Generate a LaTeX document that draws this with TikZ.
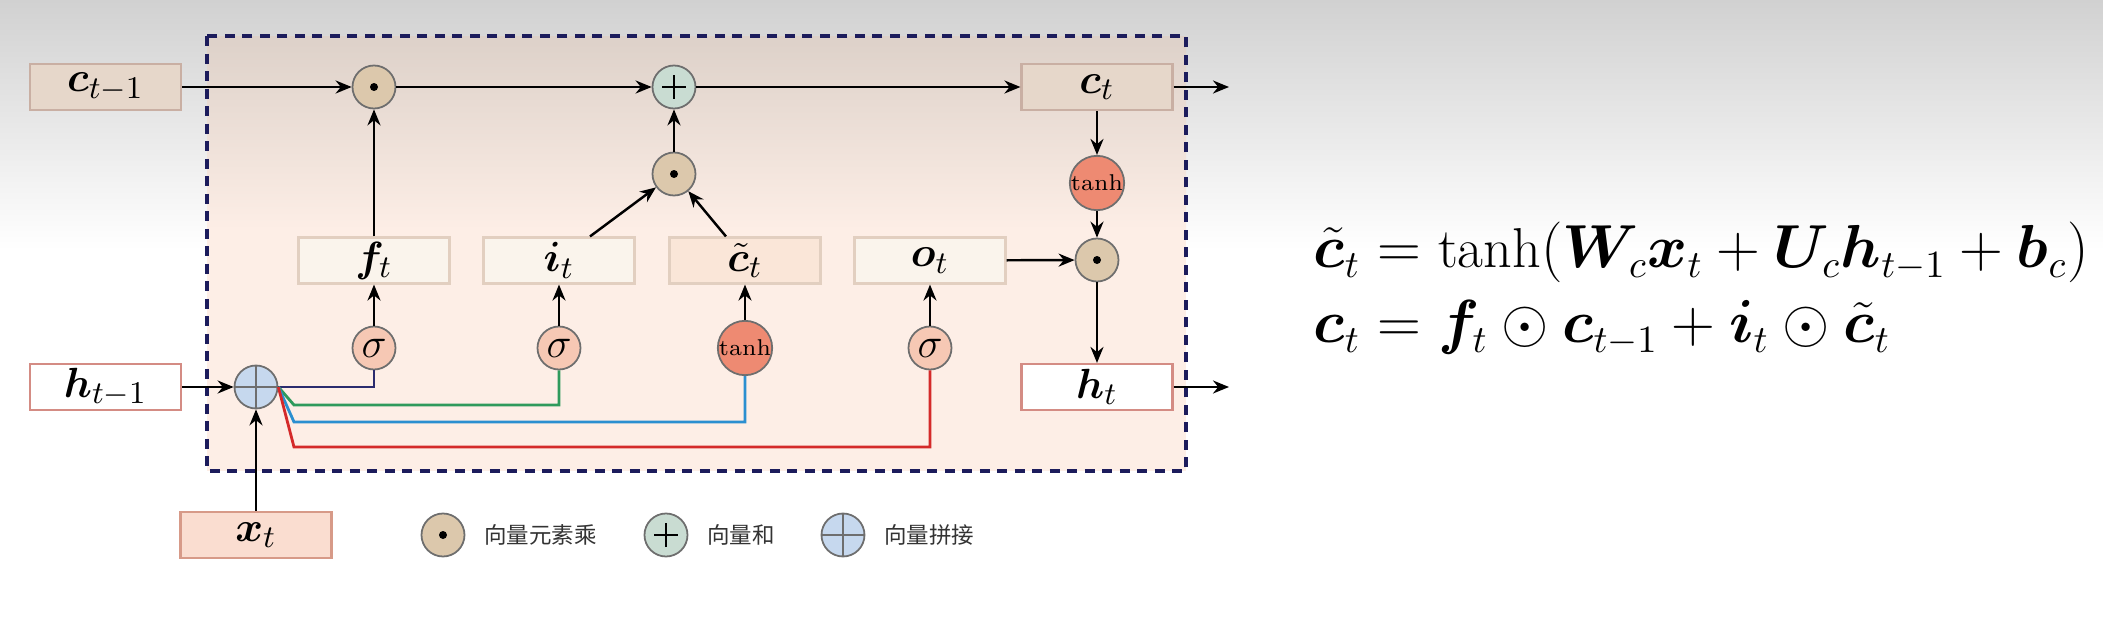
\documentclass[tikz,border=0pt]{standalone}
\usepackage{amsmath}
\usepackage{bm}
\usepackage{fontspec}
\usetikzlibrary{arrows.meta,calc}
\newfontfamily\cjk{Noto Sans CJK SC}

\definecolor{ctop}{HTML}{DDD1C9}
\definecolor{cbot}{HTML}{FDEEE6}
\definecolor{framec}{HTML}{1C1C5C}
\definecolor{cellfill}{HTML}{E6D7CA}
\definecolor{celldraw}{HTML}{C9AFA3}
\definecolor{gatefill}{HTML}{FAF4EC}
\definecolor{gatedraw}{HTML}{E2CFC0}
\definecolor{candfill}{HTML}{FAE6D8}
\definecolor{hiddraw}{HTML}{D48C84}
\definecolor{inpfill}{HTML}{FADDD0}
\definecolor{inpdraw}{HTML}{D79A88}
\definecolor{mulfill}{HTML}{DCC8AC}
\definecolor{addfill}{HTML}{C9DCD2}
\definecolor{catfill}{HTML}{C6D8EE}
\definecolor{sigfill}{HTML}{F6C8B4}
\definecolor{tanhfill}{HTML}{EE8A72}
\definecolor{ring}{HTML}{6E6E6E}
\definecolor{wnavy}{HTML}{2B2B6E}
\definecolor{wgreen}{HTML}{2F9A5C}
\definecolor{wblue}{HTML}{2B8FD0}
\definecolor{wred}{HTML}{D42A2A}

\tikzset{
  vecbox/.style={rectangle, minimum width=1.51cm, minimum height=0.46cm, inner sep=0pt,
    line width=0.6pt, font=\fontsize{13}{15}\selectfont},
  cellbox/.style={vecbox, fill=cellfill, draw=celldraw},
  gatebox/.style={vecbox, fill=gatefill, draw=gatedraw},
  candbox/.style={vecbox, fill=candfill, draw=gatedraw},
  hidbox/.style={vecbox, fill=white, draw=hiddraw},
  inpbox/.style={vecbox, fill=inpfill, draw=inpdraw},
  op/.style={circle, minimum size=0.43cm, inner sep=0pt, draw=ring, line width=0.5pt},
  mulop/.style={op, fill=mulfill, path picture={\fill[black] (path picture bounding box.center) circle (0.04);}},
  addop/.style={op, fill=addfill, path picture={
    \draw[black, line width=0.8pt] ([xshift=-0.12cm]path picture bounding box.center) -- ([xshift=0.12cm]path picture bounding box.center)
      ([yshift=-0.12cm]path picture bounding box.center) -- ([yshift=0.12cm]path picture bounding box.center);}},
  catop/.style={op, fill=catfill, path picture={
    \draw[line width=0.5pt, ring] (path picture bounding box.west) -- (path picture bounding box.east)
      (path picture bounding box.north) -- (path picture bounding box.south);}},
  sigop/.style={op, fill=sigfill, font=\large},
  tanhop/.style={op, fill=tanhfill, font=\fontsize{6.5}{7}\selectfont},
  flow/.style={line width=0.7pt, -{Stealth[length=1.6mm,width=1.3mm]}},
  wire/.style={line width=0.8pt},
  legtext/.style={anchor=west, text=black!80, font=\cjk\fontsize{6.4}{8}\selectfont},
  eqtext/.style={anchor=base west, inner sep=0pt, font=\fontsize{16}{19}\selectfont}
}

\begin{document}
\begin{tikzpicture}
\useasboundingbox (0,0) rectangle (21.03,-6.35);
\fill[white] (0,0) rectangle (21.03,-6.35);
\shade[top color=gray!36, bottom color=white] (0,0) rectangle (21.03,-2.5);
% cell frame
\shade[top color=ctop, bottom color=cbot] (2.07,-0.36) rectangle (11.86,-2.3);
\fill[cbot] (2.07,-2.3) rectangle (11.86,-4.71);
\draw[framec, line width=1pt, dash pattern=on 0.1cm off 0.075cm] (2.07,-0.36) rectangle (11.86,-4.71);

        \node[cellbox] (cprev) at (1.055,-0.87) {$\bm{c}_{t-1}$};
        \node[hidbox] (hprev) at (1.055,-3.87) {$\bm{h}_{t-1}$};
        \node[inpbox] (xt) at (2.56,-5.35) {$\bm{x}_t$};
        \node[catop] (cat) at (2.56,-3.87) {};

        \node[mulop] (mulf) at (3.74,-0.87) {};
        \node[addop] (add) at (6.74,-0.87) {};
        \node[mulop] (muli) at (6.74,-1.74) {};
        \node[cellbox] (ct) at (10.97,-0.87) {$\bm{c}_t$};
        \node[tanhop] (tanhct) at (10.97,-1.83) {tanh};
        \node[mulop] (mulo) at (10.97,-2.60) {};
        \node[hidbox] (ht) at (10.97,-3.87) {$\bm{h}_t$};

        \node[gatebox] (ft) at (3.74,-2.605) {$\bm{f}_t$};
        \node[gatebox] (it) at (5.59,-2.605) {$\bm{i}_t$};
        \node[candbox] (ctil) at (7.45,-2.605) {$\tilde{\bm{c}}_t$};
        \node[gatebox] (ot) at (9.30,-2.605) {$\bm{o}_t$};

        \node[sigop] (sigf) at (3.74,-3.48) {$\sigma$};
        \node[sigop] (sigi) at (5.59,-3.48) {$\sigma$};
        \node[tanhop] (tanhc) at (7.45,-3.48) {tanh};
        \node[sigop] (sigo) at (9.30,-3.48) {$\sigma$};

        \coordinate (cout) at (12.29,-0.87);
        \coordinate (hout) at (12.29,-3.87);

% cell state line
\draw[flow] (cprev) -- (mulf);
\draw[flow] (mulf) -- (add);
\draw[flow] (add) -- (ct);
\draw[flow] (ct) -- (cout);
\draw[flow] (ft) -- (mulf);
\draw[flow] (muli) -- (add);
\draw[flow] ($(it.north)+(0.31,0)$) -- (muli);
\draw[flow] ($(ctil.north)+(-0.19,0)$) -- (muli);
\draw[flow] (ct) -- (tanhct);
\draw[flow] (tanhct) -- (mulo);
\draw[flow] (ot) -- (mulo);
\draw[flow] (mulo) -- (ht);
\draw[flow] (ht) -- (hout);

% gates
\draw[flow] (hprev) -- (cat);
\draw[flow] (xt) -- (cat);
\draw[flow] (sigf) -- (ft);
\draw[flow] (sigi) -- (it);
\draw[flow] (tanhc) -- (ctil);
\draw[flow] (sigo) -- (ot);

\draw[wire, wnavy] (cat.east) -| (sigf);
\draw[wire, wgreen] (cat.east) -- (2.94,-4.05) -| (sigi);
\draw[wire, wblue] (cat.east) -- (2.94,-4.22) -| (tanhc);
\draw[wire, wred] (cat.east) -- (2.94,-4.47) -| (sigo);

% legend
        \node[mulop] (lmul) at (4.43,-5.35) {};
        \node[legtext] (lmult) at (4.72,-5.35) {向量元素乘};
        \node[addop] (ladd) at (6.66,-5.35) {};
        \node[legtext] (laddt) at (6.95,-5.35) {向量和};
        \node[catop] (lcat) at (8.43,-5.35) {};
        \node[legtext] (lcatt) at (8.72,-5.35) {向量拼接};

% formulas
        \node[eqtext] (eqa) at (13.13,-2.68)
          {$\tilde{\bm{c}}_t = \tanh(\bm{W}_c\bm{x}_t + \bm{U}_c\bm{h}_{t-1} + \bm{b}_c)$};
        \node[eqtext] (eqb) at (13.13,-3.43)
          {$\bm{c}_t = \bm{f}_t \odot \bm{c}_{t-1} + \bm{i}_t \odot \tilde{\bm{c}}_t$};
\end{tikzpicture}
\end{document}
